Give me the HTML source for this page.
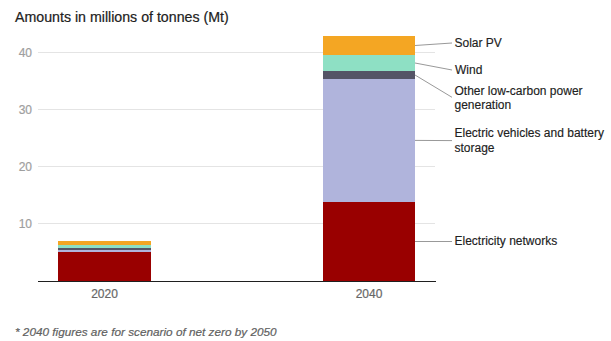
<!DOCTYPE html>
<html><head><meta charset="utf-8">
<style>
html,body{margin:0;padding:0;background:#fff;width:611px;height:341px;overflow:hidden}
svg{display:block}
text{font-family:"Liberation Sans",sans-serif}
</style></head><body>
<svg width="611" height="341" viewBox="0 0 611 341" xmlns="http://www.w3.org/2000/svg">
<rect width="611" height="341" fill="#fff"/>
<text x="15" y="22" font-size="14.2" fill="#212121" stroke="#212121" stroke-width="0.2">Amounts in millions of tonnes (Mt)</text>
<!-- gridlines -->
<g fill="#e4e4e4">
<rect x="38" y="52" width="397" height="1"/>
<rect x="38" y="109" width="397" height="1"/>
<rect x="38" y="166" width="397" height="1"/>
<rect x="38" y="223" width="397" height="1"/>
</g>
<g font-size="12" fill="#9e9e9e" stroke="#9e9e9e" stroke-width="0.2" text-anchor="end">
<text x="32" y="57">40</text>
<text x="32" y="114">30</text>
<text x="32" y="171">20</text>
<text x="32" y="228">10</text>
</g>
<!-- 2020 bar -->
<rect x="58" y="241" width="93" height="4" fill="#f4a623"/>
<rect x="58" y="245" width="93" height="3" fill="#8ee0c4"/>
<rect x="58" y="248" width="93" height="2" fill="#545466"/>
<rect x="58" y="250" width="93" height="2" fill="#b0b4dc"/>
<rect x="58" y="252" width="93" height="29" fill="#990000"/>
<!-- 2040 bar -->
<rect x="323" y="36" width="92" height="19" fill="#f4a623"/>
<rect x="323" y="55" width="92" height="16" fill="#8ee0c4"/>
<rect x="323" y="71" width="92" height="8" fill="#545466"/>
<rect x="323" y="79" width="92" height="123" fill="#b0b4dc"/>
<rect x="323" y="202" width="92" height="79" fill="#990000"/>
<!-- axis -->
<rect x="38" y="281" width="398" height="1" fill="#1f1f1f"/>
<g font-size="12" fill="#666" stroke="#666" stroke-width="0.2" text-anchor="middle">
<text x="104.5" y="298">2020</text>
<text x="369" y="298">2040</text>
</g>
<!-- leaders -->
<g stroke="#999" stroke-width="1" fill="none">
<line x1="415" y1="45.5" x2="452" y2="43"/>
<line x1="415" y1="63" x2="452" y2="70"/>
<line x1="415" y1="75" x2="452" y2="97.3"/>
<line x1="415" y1="140.4" x2="452" y2="140.6"/>
<line x1="415" y1="241.5" x2="452" y2="241.5"/>
</g>
<g font-size="12" fill="#212121" stroke="#212121" stroke-width="0.15">
<text x="454.5" y="47">Solar PV</text>
<text x="455" y="74">Wind</text>
<text x="454.5" y="95">Other low-carbon power</text>
<text x="454.5" y="109">generation</text>
<text x="454.5" y="137">Electric vehicles and battery</text>
<text x="454.5" y="152">storage</text>
<text x="454.5" y="245">Electricity networks</text>
</g>
<text x="15" y="336" font-size="11.77" font-style="italic" fill="#616161" stroke="#616161" stroke-width="0.2">* 2040 figures are for scenario of net zero by 2050</text>
</svg>
</body></html>
